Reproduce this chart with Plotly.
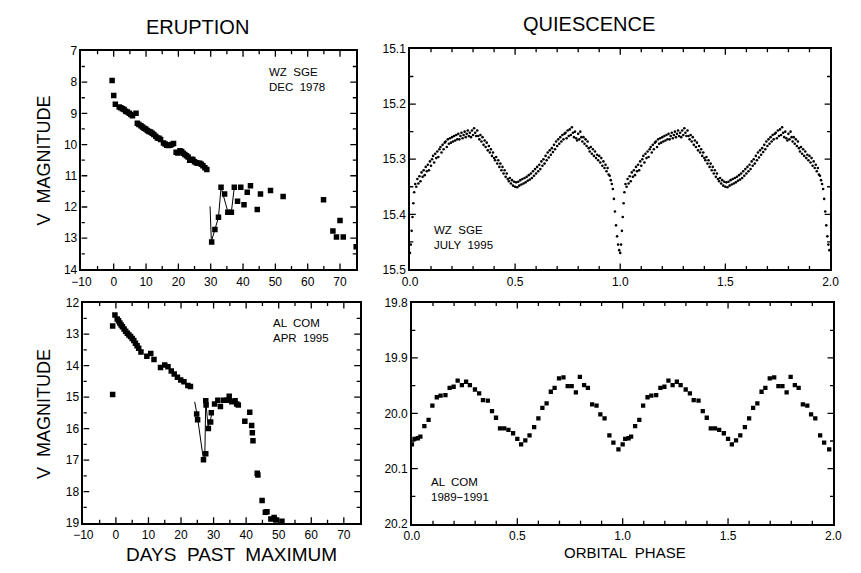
import plotly.graph_objects as go

# ---------------- DATA ----------------
# WZ Sge eruption, Dec 1978
wz_erupt_day = [-0.5, 0.0, 0.5, 1.7, 2.2, 2.7, 3.2, 3.7, 4.2, 4.8, 5.3, 5.8, 6.9, 7.3, 7.8,
                8.4, 8.9, 9.4, 9.9, 10.4, 10.9, 11.4, 11.9, 12.4, 13.0, 13.5, 14.0, 14.5,
                15.4, 15.9, 16.4, 16.9, 17.4, 17.9, 18.5, 19.3, 19.8, 20.5, 21.0, 21.5,
                22.0, 22.5, 23.0, 23.5, 24.0, 24.5, 25.0, 25.5, 26.0, 26.6, 27.1, 27.6,
                28.2, 28.8,
                30.3, 31.3, 32.4, 33.2, 34.3, 35.3, 36.4, 37.3, 38.3, 39.3, 40.3, 41.3,
                42.3, 44.4, 45.4, 48.5, 52.4, 64.9, 67.8, 68.9, 70.0, 71.0, 75.0]
wz_erupt_mag = [7.95, 8.43, 8.71, 8.80, 8.82, 8.85, 8.88, 8.93, 8.96, 9.00, 9.04, 9.08, 9.00, 9.32, 9.36,
                9.40, 9.44, 9.48, 9.50, 9.55, 9.58, 9.60, 9.64, 9.68, 9.73, 9.79, 9.80, 9.84,
                9.95, 9.98, 10.02, 10.03, 10.02, 10.00, 9.97, 10.25, 10.27, 10.20, 10.22, 10.28,
                10.32, 10.36, 10.40, 10.50, 10.47, 10.48, 10.55, 10.58, 10.60, 10.60, 10.63, 10.68,
                10.74, 10.80,
                13.12, 12.72, 12.33, 11.37, 11.58, 12.17, 12.17, 11.37, 11.82, 11.37, 11.93, 11.53,
                11.32, 12.08, 11.58, 11.47, 11.66, 11.77, 12.77, 12.96, 12.43, 12.96, 13.27]
wz_line_day = [29.8, 30.2, 31.3, 32.4, 33.2, 35.3, 36.4, 37.3]
wz_line_mag = [11.98, 13.10, 12.72, 12.33, 11.37, 12.15, 12.15, 11.37]

# AL Com eruption, Apr 1995
al_erupt_day = [-1.0, -1.0, -0.3, 0.4, 0.8, 1.2, 1.6, 2.0, 2.5, 3.0, 3.5, 4.0, 4.5, 5.0, 5.5,
                6.0, 6.5, 7.0, 7.7, 9.5, 10.7, 11.7, 13.7, 15.0, 16.0, 17.0, 17.9, 18.9,
                19.9, 20.9, 22.1, 22.9,
                24.8, 25.1, 26.9, 27.6, 27.6, 27.7, 28.4, 29.1, 29.3, 30.3, 31.3, 32.1,
                33.1, 34.1, 34.8, 35.6, 36.6, 37.1, 37.6, 39.6, 41.1, 41.7, 41.9, 42.1,
                43.4, 43.6, 44.9, 45.9, 46.4, 47.6, 48.6, 49.1, 51.0]
al_erupt_mag = [14.92, 12.74, 12.39, 12.52, 12.58, 12.65, 12.71, 12.77, 12.84, 12.91, 12.97, 13.03,
                13.08, 13.14, 13.20, 13.29, 13.37, 13.45, 13.57, 13.70, 13.62, 13.81, 14.06,
                13.98, 14.04, 14.17, 14.27, 14.37, 14.46, 14.51, 14.63, 14.66,
                15.54, 15.72, 16.99, 16.80, 15.12, 15.25, 16.00, 15.79, 15.50, 15.22, 15.10,
                15.30, 15.10, 15.10, 14.97, 15.15, 15.12, 15.22, 15.25, 15.77, 15.48, 15.90,
                16.13, 16.39, 17.42, 17.47, 18.28, 18.66, 18.64, 18.87, 18.82, 18.90, 18.94]
al_line_day = [24.2, 25.0, 26.9, 27.3, 27.6, 28.3, 29.0, 29.5]
al_line_mag = [15.15, 15.60, 17.00, 16.95, 15.10, 15.95, 15.75, 15.50]

# WZ Sge quiescence, July 1995 (one orbital cycle, plotted twice)
wz_q_phase = [0.000, 0.004, 0.008, 0.012, 0.016, 0.020, 0.025, 0.030, 0.035, 0.040, 0.045, 0.050,
              0.055, 0.060, 0.065, 0.070, 0.075, 0.080, 0.085, 0.090, 0.095, 0.100, 0.105, 0.110,
              0.115, 0.120, 0.125, 0.130, 0.135, 0.140, 0.145, 0.150, 0.155, 0.160, 0.165, 0.170,
              0.175, 0.180, 0.185, 0.190, 0.195, 0.200, 0.205, 0.210, 0.215, 0.220, 0.225, 0.230,
              0.235, 0.240, 0.245, 0.250, 0.255, 0.260, 0.265, 0.270, 0.275, 0.280, 0.285, 0.290,
              0.295, 0.300, 0.305, 0.310, 0.315, 0.320, 0.325, 0.330, 0.335, 0.340, 0.345, 0.350,
              0.355, 0.360, 0.365, 0.370, 0.375, 0.380, 0.385, 0.390, 0.395, 0.400, 0.405, 0.410,
              0.415, 0.420, 0.425, 0.430, 0.435, 0.440, 0.445, 0.450, 0.455, 0.460, 0.465, 0.470,
              0.475, 0.480, 0.485, 0.490, 0.495, 0.500, 0.505, 0.510, 0.515, 0.520, 0.525, 0.530,
              0.535, 0.540, 0.545, 0.550, 0.555, 0.560, 0.565, 0.570, 0.575, 0.580, 0.585, 0.590,
              0.595, 0.600, 0.605, 0.610, 0.615, 0.620, 0.625, 0.630, 0.635, 0.640, 0.645, 0.650,
              0.655, 0.660, 0.665, 0.670, 0.675, 0.680, 0.685, 0.690, 0.695, 0.700, 0.705, 0.710,
              0.715, 0.720, 0.725, 0.730, 0.735, 0.740, 0.745, 0.750, 0.755, 0.760, 0.765, 0.770,
              0.775, 0.780, 0.785, 0.790, 0.795, 0.800, 0.805, 0.810, 0.815, 0.820, 0.825, 0.830,
              0.835, 0.840, 0.845, 0.850, 0.855, 0.860, 0.865, 0.870, 0.875, 0.880, 0.885, 0.890,
              0.895, 0.900, 0.905, 0.910, 0.915, 0.920, 0.925, 0.930, 0.935, 0.940, 0.945, 0.950,
              0.955, 0.960, 0.965, 0.970, 0.975, 0.980, 0.985, 0.990, 0.995]
wz_q_mag = [15.470, 15.455, 15.430, 15.405, 15.380, 15.360, 15.345, 15.350, 15.336, 15.344, 15.331, 15.340,
            15.324, 15.332, 15.320, 15.329, 15.314, 15.322, 15.310, 15.320, 15.304, 15.312, 15.300, 15.294,
            15.306, 15.290, 15.298, 15.286, 15.296, 15.282, 15.278, 15.288, 15.274, 15.282, 15.270, 15.268,
            15.278, 15.264, 15.272, 15.262, 15.270, 15.260, 15.268, 15.258, 15.266, 15.256, 15.264, 15.254,
            15.264, 15.258, 15.252, 15.262, 15.256, 15.250, 15.260, 15.254, 15.248, 15.258, 15.252, 15.260,
            15.248, 15.256, 15.244, 15.252, 15.258, 15.248, 15.258, 15.264, 15.256, 15.268, 15.260, 15.274,
            15.266, 15.278, 15.270, 15.284, 15.276, 15.288, 15.282, 15.294, 15.288, 15.298, 15.302, 15.296,
            15.308, 15.302, 15.314, 15.308, 15.320, 15.314, 15.326, 15.320, 15.332, 15.326, 15.336, 15.340,
            15.334, 15.344, 15.338, 15.348, 15.341, 15.350, 15.342, 15.351, 15.341, 15.348, 15.338, 15.346,
            15.336, 15.344, 15.334, 15.342, 15.332, 15.339, 15.329, 15.337, 15.326, 15.334, 15.322, 15.330,
            15.318, 15.326, 15.314, 15.322, 15.310, 15.318, 15.304, 15.312, 15.300, 15.308, 15.294, 15.302,
            15.288, 15.297, 15.284, 15.292, 15.280, 15.287, 15.274, 15.282, 15.268, 15.276, 15.264, 15.272,
            15.260, 15.268, 15.256, 15.264, 15.254, 15.252, 15.262, 15.248, 15.258, 15.246, 15.256, 15.242,
            15.252, 15.260, 15.250, 15.262, 15.266, 15.254, 15.264, 15.250, 15.260, 15.268, 15.260, 15.272,
            15.264, 15.276, 15.268, 15.280, 15.286, 15.278, 15.290, 15.282, 15.294, 15.286, 15.298, 15.292,
            15.302, 15.294, 15.306, 15.298, 15.312, 15.304, 15.316, 15.310, 15.322, 15.316, 15.328, 15.330,
            15.338, 15.345, 15.354, 15.372, 15.395, 15.420, 15.440, 15.455, 15.465]

# AL Com quiescence, 1989-1991 (one orbital cycle, plotted twice)
al_q_phase = [0.000, 0.012, 0.028, 0.040, 0.059, 0.079, 0.097, 0.118, 0.136, 0.159, 0.179, 0.198,
              0.217, 0.237, 0.257, 0.275, 0.299, 0.319, 0.337, 0.360, 0.380, 0.399, 0.418, 0.438,
              0.458, 0.480, 0.500, 0.518, 0.538, 0.558, 0.580, 0.600, 0.619, 0.639, 0.659, 0.677,
              0.698, 0.719, 0.739, 0.758, 0.778, 0.797, 0.817, 0.835, 0.855, 0.876, 0.894, 0.914,
              0.937, 0.956, 0.980]
al_q_mag = [20.056, 20.046, 20.045, 20.042, 20.023, 20.012, 19.986, 19.971, 19.968, 19.967, 19.954, 19.952,
            19.941, 19.949, 19.943, 19.949, 19.957, 19.964, 19.976, 19.977, 19.996, 20.008, 20.027, 20.027,
            20.030, 20.036, 20.046, 20.056, 20.049, 20.040, 20.025, 20.009, 19.990, 19.982, 19.961, 19.954,
            19.937, 19.935, 19.951, 19.951, 19.962, 19.934, 19.949, 19.954, 19.984, 19.986, 20.002, 20.009,
            20.040, 20.053, 20.065]

# ---------------- FIGURE ----------------
W, H = 861, 573
FONT = "Liberation Sans, Arial, sans-serif"

def px_dom(a, b):
    return [a / W, b / W]

def py_dom(top, bottom):
    return [1 - bottom / H, 1 - top / H]

fig = go.Figure()

sq = dict(symbol="square", color="black", line=dict(width=0))

fig.add_trace(go.Scatter(x=wz_erupt_day, y=wz_erupt_mag, mode="markers",
                         marker=dict(size=5.5, **sq), xaxis="x", yaxis="y"))
fig.add_trace(go.Scatter(x=wz_line_day, y=wz_line_mag, mode="lines",
                         line=dict(color="black", width=1), xaxis="x", yaxis="y"))

fig.add_trace(go.Scatter(x=al_erupt_day, y=al_erupt_mag, mode="markers",
                         marker=dict(size=5.5, **sq), xaxis="x3", yaxis="y3"))
fig.add_trace(go.Scatter(x=al_line_day, y=al_line_mag, mode="lines",
                         line=dict(color="black", width=1), xaxis="x3", yaxis="y3"))

wz_x = wz_q_phase + [p + 1 for p in wz_q_phase]
wz_y = wz_q_mag + wz_q_mag
fig.add_trace(go.Scatter(x=wz_x, y=wz_y, mode="markers",
                         marker=dict(size=2.6, color="black", line=dict(width=0)),
                         xaxis="x2", yaxis="y2"))

al_x = al_q_phase + [p + 1 for p in al_q_phase]
al_y = al_q_mag + al_q_mag
fig.add_trace(go.Scatter(x=al_x, y=al_y, mode="markers",
                         marker=dict(size=4.3, **sq), xaxis="x4", yaxis="y4"))

tickfont = dict(family=FONT, size=12, color="black")

def ax(domain, rng, dtick, anchor, tickformat=None):
    d = dict(domain=domain, range=rng, dtick=dtick, tick0=0, anchor=anchor,
             showline=True, linecolor="black", linewidth=1.5, mirror=True,
             ticks="", showgrid=False, zeroline=False, tickfont=tickfont)
    if tickformat:
        d["tickformat"] = tickformat
    return d

# (x, y, x domain, y domain, x range, y range, x major, x minor, y major, y minor, fmt)
panels = [
    ("x", "y", px_dom(73, 354), py_dom(45, 269), [-10, 75], [14, 7], 10, 5, 1, 0.5, None),
    ("x2", "y2", px_dom(409, 839), py_dom(43, 269), [0, 2], [15.5, 15.1], 0.5, 0.1, 0.1, 0.05, ".1f"),
    ("x3", "y3", px_dom(75, 358), py_dom(303, 529), [-10, 75], [19, 12], 10, 5, 1, 0.5, None),
    ("x4", "y4", px_dom(411, 842), py_dom(303, 530), [0, 2], [20.2, 19.8], 0.5, 0.1, 0.1, 0.05, ".1f"),
]

def tick_values(rng, step):
    lo, hi = min(rng), max(rng)
    k = int(round(lo / step))
    vals = []
    while k * step <= hi + 1e-9:
        v = k * step
        if lo + 1e-9 < v < hi - 1e-9:
            vals.append(round(v, 6))
        k += 1
    return vals

MAJ, MIN = 6.0, 3.5
layout_axes = {}
for (xn, yn, xd, yd, xr, yr, xmaj, xmin, ymaj, ymin, fmt) in panels:
    layout_axes["xaxis" + xn[1:]] = ax(xd, xr, xmaj, yn, fmt)
    layout_axes["yaxis" + yn[1:]] = ax(yd, yr, ymaj, xn, fmt)

    # data units per screen pixel for this panel (used for tick lengths)
    wpx = (xd[1] - xd[0]) * W
    hpx = (yd[1] - yd[0]) * H
    dx = (xr[1] - xr[0]) / wpx          # sign follows axis direction
    dy = (yr[1] - yr[0]) / hpx

    xmajv = tick_values(xr, xmaj)
    xminv = [v for v in tick_values(xr, xmin) if v not in xmajv]
    ymajv = tick_values(yr, ymaj)
    yminv = [v for v in tick_values(yr, ymin) if v not in ymajv]

    tx, ty = [], []
    for vals, L in ((xmajv, MAJ), (xminv, MIN)):
        for v in vals:
            tx += [v, v, None, v, v, None]
            ty += [yr[0], yr[0] + L * dy, None, yr[1], yr[1] - L * dy, None]
    for vals, L in ((ymajv, MAJ), (yminv, MIN)):
        for v in vals:
            tx += [xr[0], xr[0] + L * dx, None, xr[1], xr[1] - L * dx, None]
            ty += [v, v, None, v, v, None]
    fig.add_trace(go.Scatter(x=tx, y=ty, mode="lines", line=dict(color="black", width=1.3),
                             hoverinfo="skip", connectgaps=False, xaxis=xn, yaxis=yn))

fig.update_layout(width=W, height=H, margin=dict(l=0, r=0, t=0, b=0),
                  paper_bgcolor="white", plot_bgcolor="white", showlegend=False,
                  **layout_axes)

annots = [
    dict(text="ERUPTION", x=192 / W, y=1 - 21 / H, xref="paper", yref="paper",
         font=dict(size=20, family=FONT)),
    dict(text="QUIESCENCE", x=592 / W, y=1 - 17 / H, xref="paper", yref="paper",
         font=dict(size=20, family=FONT)),
    dict(text="V  MAGNITUDE", x=35 / W, y=1 - 157 / H, xref="paper", yref="paper",
         textangle=-90, font=dict(size=18, family=FONT)),
    dict(text="V  MAGNITUDE", x=35 / W, y=1 - 417 / H, xref="paper", yref="paper",
         textangle=-90, font=dict(size=18, family=FONT)),
    dict(text="DAYS  PAST  MAXIMUM", x=227 / W, y=1 - 561 / H, xref="paper", yref="paper",
         font=dict(size=19, family=FONT)),
    dict(text="ORBITAL  PHASE", x=629 / W, y=1 - 559 / H, xref="paper", yref="paper",
         font=dict(size=15, family=FONT)),
    dict(text="WZ  SGE<br>DEC  1978", x=47.5, y=7.9, xref="x", yref="y", xanchor="left",
         align="left", font=dict(size=11.5, family=FONT)),
    dict(text="AL  COM<br>APR  1995", x=47.7, y=12.9, xref="x3", yref="y3", xanchor="left",
         align="left", font=dict(size=11.5, family=FONT)),
    dict(text="WZ  SGE<br>JULY  1995", x=0.107, y=15.442, xref="x2", yref="y2", xanchor="left",
         align="left", font=dict(size=11.5, family=FONT)),
    dict(text="AL  COM<br>1989\u22121991", x=0.079, y=20.138, xref="x4", yref="y4", xanchor="left",
         align="left", font=dict(size=11.5, family=FONT)),
]
for a in annots:
    a.setdefault("showarrow", False)
    a.setdefault("xanchor", "center")
    a.setdefault("yanchor", "middle")
    a["font"]["color"] = "black"
    fig.add_annotation(**a)

fig.write_html("out.html")
